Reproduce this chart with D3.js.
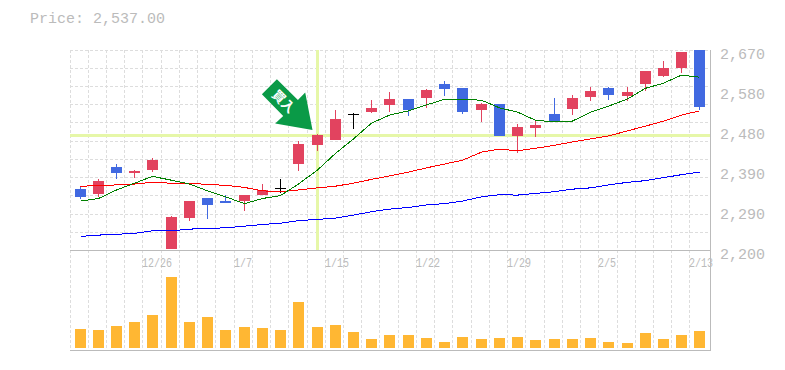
<!DOCTYPE html>
<html>
<head>
<meta charset="utf-8">
<script src="https://d3js.org/d3.v7.min.js"></script>
<style>
  body { margin: 0; background: #fff; }
  text { font-family: "Liberation Mono", monospace; fill: #bbb; }
</style>
</head>
<body>
<svg id="chart" width="785" height="370"></svg>
<script>
var priceLabel = "Price: 2,537.00";

// one entry per trading day
var open  = [2343,2332,2395,2381,2388,2202,2275,2322,2315,2315,2329,2346,2402,2447,2458,2520,2524,2541,2555,2557,2590,2581,2529,2543,2468,2487,2520,2531,2560,2581,2562,2590,2609,2628,2670];
var high  = [2348,2367,2402,2388,2416,2280,2315,2322,2329,2329,2355,2367,2456,2473,2529,2522,2552,2571,2555,2578,2597,2581,2545,2543,2496,2505,2557,2564,2583,2583,2583,2621,2644,2665,2670];
var low   = [2320,2325,2367,2369,2383,2202,2268,2273,2310,2292,2329,2334,2386,2433,2458,2484,2522,2524,2515,2534,2562,2520,2501,2468,2428,2466,2501,2517,2550,2552,2550,2574,2607,2616,2529];
var close = [2325,2362,2381,2386,2411,2278,2315,2306,2310,2329,2341,2346,2449,2470,2508,2520,2534,2555,2529,2576,2578,2524,2543,2468,2489,2494,2501,2557,2574,2564,2571,2621,2628,2665,2537];

var maShort = [2315,2321,2341,2357,2373,2364,2355,2339,2325,2309,2321,2328,2355,2388,2427,2461,2498,2517,2527,2541,2554,2554,2552,2534,2524,2505,2501,2503,2524,2538,2555,2580,2592,2611,2606];
var maMid   = [2350,2351,2353,2355,2359,2357,2357,2354,2352,2347,2339,2337,2341,2346,2350,2357,2366,2374,2383,2393,2402,2411,2430,2437,2433,2439,2446,2454,2461,2468,2480,2491,2503,2517,2527];
var maLong  = [2232,2235,2237,2239,2245,2245,2249,2251,2252,2256,2260,2263,2269,2272,2275,2282,2290,2296,2300,2306,2309,2315,2325,2330,2329,2333,2337,2343,2346,2353,2359,2363,2370,2377,2383];

var volume = [19,18,22,26,33,71,26,31,18,21,20,18,46,21,23,16,9,13,13,10,6,11,9,10,11,8,9,9,10,6,5,15,9,13,17];

var priceTicks  = [2200,2294,2388,2482,2576,2670];
var priceLabels = ["2,200","2,290","2,390","2,480","2,580","2,670"];
var dateTicks   = [4,9,14,19,24,29,34];
var dateLabels  = ["12/26","1/7","1/15","1/22","1/29","2/5","2/13"];

var signalDay = 13;
var signalText = "買入";

var days = d3.range(open.length);

var x = d3.scaleBand().domain(days).range([70, 708.2]);
var y = d3.scaleLinear().domain([2200, 2670]).range([250, 50]);
var yVol = d3.scaleLinear().domain([0, 100]).range([348, 248]);

function left(i) { return Math.floor(x(i)); }
function mid(i) { return left(i) + 10.5; }

var svg = d3.select("#chart");

svg.append("text")
    .attr("x", 30).attr("y", 23)
    .style("font-size", "15px")
    .text(priceLabel);

// grid
var grid = svg.append("g")
    .attr("stroke", "#ddd")
    .attr("stroke-dasharray", "3,2")
    .attr("shape-rendering", "crispEdges");
grid.selectAll(".v").data(days).enter().append("line")
    .attr("x1", function(d) { return left(d) + 0.5; })
    .attr("x2", function(d) { return left(d) + 0.5; })
    .attr("y1", 50).attr("y2", 350);
grid.selectAll(".h").data(d3.range(11)).enter().append("line")
    .attr("x1", 70).attr("x2", 710)
    .attr("y1", function(d) { return Math.floor(50 + d * 18.23) + 0.5; })
    .attr("y2", function(d) { return Math.floor(50 + d * 18.23) + 0.5; });

// frame
var frame = svg.append("g").attr("stroke", "#bbb").attr("shape-rendering", "crispEdges");
frame.append("line").attr("x1", 70).attr("x2", 711).attr("y1", 250.5).attr("y2", 250.5);
frame.append("line").attr("x1", 70).attr("x2", 711).attr("y1", 350.5).attr("y2", 350.5);
frame.append("line").attr("x1", 710.5).attr("x2", 710.5).attr("y1", 50).attr("y2", 351);

// crosshair on the signal candle
var crossY = Math.round(y(close[signalDay]));
svg.append("rect").attr("x", 70).attr("y", crossY - 1).attr("width", 640).attr("height", 3).attr("fill", "#e6f7a8");
svg.append("rect").attr("x", mid(signalDay) - 1.5).attr("y", 50).attr("width", 3).attr("height", 200).attr("fill", "#e6f7a8");

// axes
var yAxis = d3.axisRight(y)
    .tickValues(priceTicks)
    .tickSize(0)
    .tickPadding(10)
    .tickFormat(function(d, i) { return priceLabels[i]; });
var gy = svg.append("g").attr("transform", "translate(710,0)").call(yAxis);
gy.select(".domain").remove();
gy.selectAll("text")
    .attr("dy", "8")
    .style("font-size", "15px")
    .style("font-family", "'Liberation Mono', monospace")
    .style("fill", "#bbb");

var xAxis = d3.axisBottom(x)
    .tickValues(dateTicks)
    .tickSize(0)
    .tickFormat(function(d, i) { return dateLabels[i]; });
var gx = svg.append("g").attr("transform", "translate(0,250)").call(xAxis);
gx.select(".domain").remove();
// date labels are narrow and tall in the reference, so squeeze them to 6px a char
gx.selectAll("text")
    .attr("text-anchor", "start")
    .attr("x", function(d) { return left(d) - x(d) - x.bandwidth() / 2; })
    .attr("y", 17)
    .attr("dy", 0)
    .attr("textLength", function(d, i) { return dateLabels[i].length * 6; })
    .attr("lengthAdjust", "spacingAndGlyphs")
    .style("font-size", "13px")
    .style("font-family", "'Liberation Mono', monospace")
    .style("fill", "#bbb");

// volume
svg.append("g").selectAll("rect").data(days).enter().append("rect")
    .attr("x", function(d) { return left(d) + 5; })
    .attr("width", 11)
    .attr("y", function(d) { return Math.round(yVol(volume[d])); })
    .attr("height", function(d) { return 348 - Math.round(yVol(volume[d])); })
    .attr("fill", "#ffb733");

function candleColor(i) {
  if (close[i] > open[i]) return "#e2435f";
  if (close[i] < open[i]) return "#4169e1";
  return "#000";
}

// candles
var candles = svg.append("g").attr("shape-rendering", "crispEdges");
candles.selectAll(".wick").data(days).enter().append("rect")
    .attr("x", function(d) { return left(d) + 10; })
    .attr("width", 1)
    .attr("y", function(d) { return Math.round(y(high[d])); })
    .attr("height", function(d) { return Math.round(y(low[d])) - Math.round(y(high[d])); })
    .attr("fill", candleColor);
candles.selectAll(".body").data(days).enter().append("rect")
    .attr("x", function(d) { return left(d) + 5; })
    .attr("width", 11)
    .attr("y", function(d) { return Math.round(y(Math.max(open[d], close[d]))); })
    .attr("height", function(d) {
      var h = Math.round(y(Math.min(open[d], close[d]))) - Math.round(y(Math.max(open[d], close[d])));
      return h < 1 ? 1 : h;
    })
    .attr("fill", candleColor);

// moving averages
var maLine = d3.line()
    .x(function(d, i) { return mid(i); })
    .y(function(d) { return y(d); });
function drawMa(values, color) {
  svg.append("path")
      .attr("d", maLine(values))
      .attr("fill", "none")
      .attr("stroke", color)
      .attr("stroke-width", 1)
      .attr("shape-rendering", "crispEdges");
}
drawMa(maLong, "#0000ff");
drawMa(maMid, "#ff0000");
drawMa(maShort, "#008000");

// signal arrow, tip just above left of the crosshair centre
var arrow = svg.append("g")
    .attr("transform", "translate(" + (mid(signalDay) - 5) + "," + (crossY - 5) + ")");
arrow.append("polygon")
    .attr("points", "-35.6,-50.7 -50.6,-35.7 -29.3,-14 -37.3,-6.4 0,0 -7.3,-37.4 -14.6,-30")
    .attr("fill", "#0a9a47");
arrow.append("text")
    .attr("transform", "translate(-29,-28.5) rotate(45)")
    .attr("text-anchor", "middle")
    .attr("dy", "0.35em")
    .style("font-family", "'Noto Sans CJK TC', sans-serif")
    .style("font-size", "13px")
    .style("font-weight", "700")
    .style("fill", "#fff")
    .text(signalText);
</script>
</body>
</html>
